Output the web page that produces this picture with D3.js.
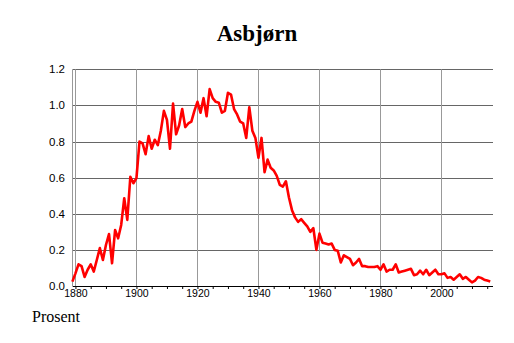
<!DOCTYPE html>
<html lang="no">

<head>
    <meta charset="UTF-8">
    <title>Asbjørn</title>
    <script src="https://d3js.org/d3.v7.min.js"></script>
    <style>
        body { margin: 0; background: #fff; }
    </style>
</head>

<body>
    <div id="chart"></div>
    <script>
        const title = "Asbjørn";
        const yLabel = "Prosent";
        const startYear = 1879;
        const yTicks = [0, 0.2, 0.4, 0.6, 0.8, 1.0, 1.2];
        const xTicks = [1880, 1900, 1920, 1940, 1960, 1980, 2000];
        // percent per year, 1879..2016
        const values = [
            0.024, 0.07, 0.12, 0.11, 0.05, 0.09, 0.12, 0.08, 0.144, 0.21,
            0.144, 0.227, 0.288, 0.126, 0.31, 0.264, 0.338, 0.486, 0.366, 0.605,
            0.569, 0.597, 0.80, 0.79, 0.73, 0.83, 0.76, 0.81, 0.78, 0.86,
            0.97, 0.92, 0.76, 1.01, 0.84, 0.89, 0.98, 0.88, 0.90, 0.91,
            0.97, 1.02, 0.96, 1.04, 0.94, 1.09, 1.04, 1.02, 1.015, 0.96,
            0.97, 1.07, 1.06, 0.98, 0.95, 0.91, 0.90, 0.82, 0.99, 0.86,
            0.82, 0.71, 0.82, 0.63, 0.70, 0.655, 0.64, 0.61, 0.56, 0.55,
            0.58, 0.49, 0.42, 0.38, 0.355, 0.37, 0.35, 0.33, 0.30, 0.32,
            0.20, 0.29, 0.24, 0.235, 0.23, 0.235, 0.20, 0.195, 0.13, 0.17,
            0.16, 0.15, 0.115, 0.13, 0.15, 0.11, 0.11, 0.105, 0.105, 0.105,
            0.11, 0.09, 0.12, 0.08, 0.09, 0.09, 0.12, 0.075, 0.08, 0.085,
            0.09, 0.095, 0.06, 0.065, 0.085, 0.065, 0.09, 0.06, 0.075, 0.09,
            0.065, 0.065, 0.07, 0.045, 0.05, 0.035, 0.05, 0.065, 0.04, 0.05,
            0.035, 0.02, 0.03, 0.05, 0.045, 0.035, 0.03, 0.025
        ];
        const data = values.map((v, i) => ({ year: startYear + i, value: v }));

        const width = 514, height = 343;
        const xScale = d3.scaleLinear().domain([1879.1, 2016.9]).range([72.7, 493]);
        const yScale = d3.scaleLinear().domain([0, 1.2]).range([286, 69.3]);

        const svg = d3.select("#chart").append("svg")
            .attr("width", width)
            .attr("height", height);

        // horizontal grid
        svg.append("g").selectAll("line")
            .data(yTicks.slice(1))
            .join("line")
            .attr("x1", xScale.range()[0]).attr("x2", xScale.range()[1])
            .attr("y1", d => Math.round(yScale(d)) + 0.5)
            .attr("y2", d => Math.round(yScale(d)) + 0.5)
            .attr("stroke", "#666").attr("stroke-width", 1);

        // vertical grid
        svg.append("g").selectAll("line")
            .data(xTicks)
            .join("line")
            .attr("x1", d => Math.round(xScale(d)) + 0.5)
            .attr("x2", d => Math.round(xScale(d)) + 0.5)
            .attr("y1", yScale(1.2)).attr("y2", yScale(0))
            .attr("stroke", "#999").attr("stroke-width", 1);

        // left edge
        svg.append("line")
            .attr("x1", 72.5).attr("x2", 72.5)
            .attr("y1", yScale(1.2)).attr("y2", yScale(0))
            .attr("stroke", "#999");

        // x axis with minor ticks every 5 years
        const xAxis = d3.axisBottom(xScale)
            .tickValues(d3.range(1880, 2016, 5))
            .tickSize(3)
            .tickFormat(d => xTicks.includes(d) ? d : "");
        const gx = svg.append("g")
            .attr("transform", "translate(0," + Math.round(yScale(0)) + ")")
            .call(xAxis);
        gx.select(".domain").attr("d", "M" + xScale.range()[0] + ",0.5H" + xScale.range()[1]).attr("stroke", "#000");
        gx.selectAll(".tick line").attr("stroke", "#000");
        gx.selectAll(".tick text")
            .attr("y", 4)
            .attr("font-family", "Liberation Sans, Arial, sans-serif")
            .attr("font-size", 10.5)
            .attr("fill", "#000");

        // y labels
        svg.append("g").selectAll("text")
            .data(yTicks)
            .join("text")
            .attr("x", 65)
            .attr("y", d => yScale(d))
            .attr("dy", "0.35em")
            .attr("text-anchor", "end")
            .attr("font-family", "Liberation Sans, Arial, sans-serif")
            .attr("font-size", 11.5)
            .text(d => d3.format(".1f")(d));

        const line = d3.line()
            .x(d => xScale(d.year))
            .y(d => yScale(d.value));

        svg.append("path")
            .datum(data)
            .attr("fill", "none")
            .attr("stroke", "#ff0000")
            .attr("stroke-width", 2.6)
            .attr("stroke-linejoin", "round")
            .attr("d", line);

        svg.append("text")
            .attr("x", 257)
            .attr("y", 41)
            .attr("text-anchor", "middle")
            .attr("font-family", "Liberation Serif, Times New Roman, serif")
            .attr("font-weight", "bold")
            .attr("font-size", 23)
            .text(title);

        svg.append("text")
            .attr("x", 32)
            .attr("y", 322)
            .attr("font-family", "Liberation Serif, Times New Roman, serif")
            .attr("font-size", 16)
            .text(yLabel);
    </script>
</body>

</html>
